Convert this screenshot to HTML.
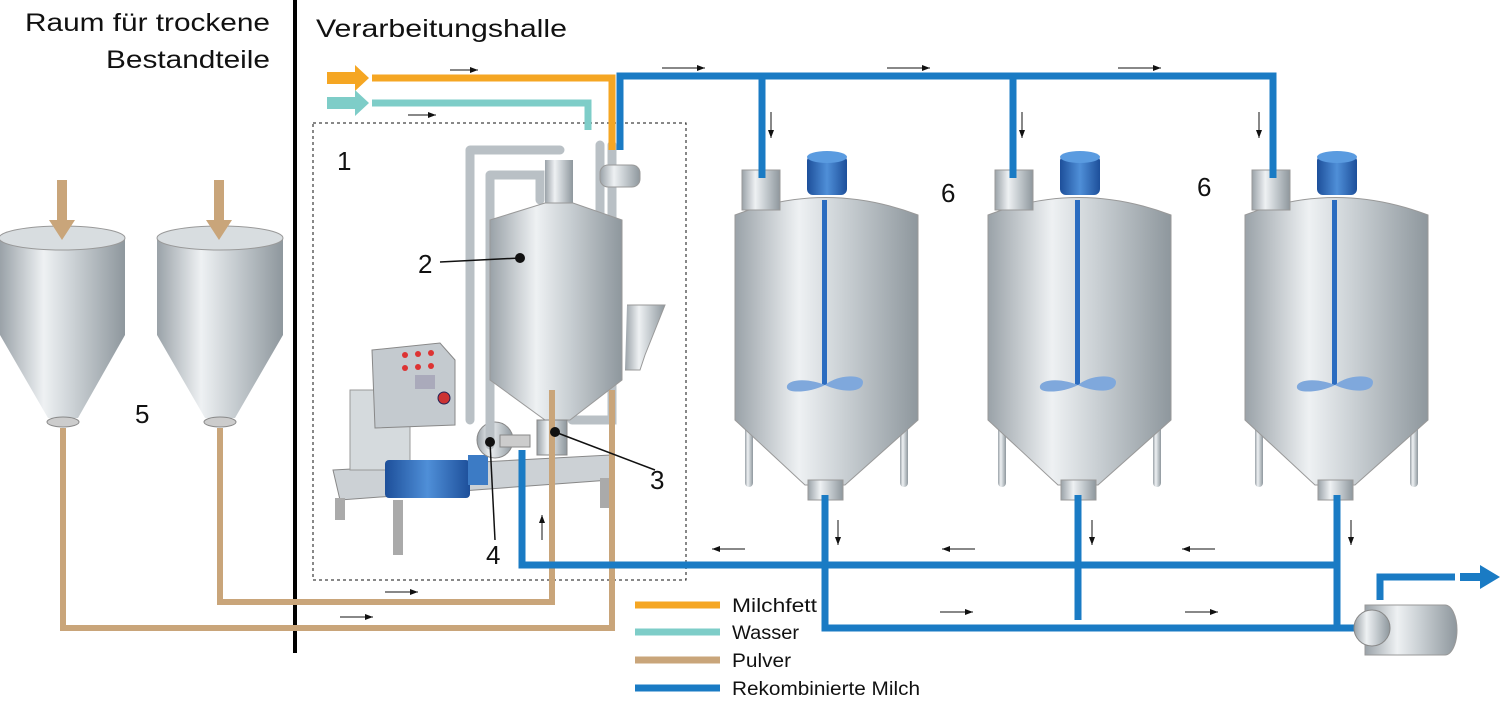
<!DOCTYPE html>
<html><head><meta charset="utf-8"><style>
body{margin:0;background:#fff}
svg{display:block}
text{font-family:"Liberation Sans",sans-serif;fill:#111}
</style></head><body>
<svg width="1502" height="704" viewBox="0 0 1502 704" xmlns="http://www.w3.org/2000/svg">
<defs>
<linearGradient id="m" x1="0" x2="1"><stop offset="0" stop-color="#9aa2a8"/><stop offset=".35" stop-color="#eef1f3"/><stop offset=".6" stop-color="#c9cfd3"/><stop offset="1" stop-color="#8e979d"/></linearGradient>
<linearGradient id="b" x1="0" x2="1"><stop offset="0" stop-color="#1d4f9a"/><stop offset=".5" stop-color="#4f8fd8"/><stop offset="1" stop-color="#1d4f9a"/></linearGradient>
<marker id="ar" markerWidth="8" markerHeight="6" refX="8" refY="3" orient="auto"><path d="M0,0L8,3L0,6z" fill="#111"/></marker>
</defs>
<text x="25" y="31" font-size="25" textLength="245" lengthAdjust="spacingAndGlyphs">Raum für trockene</text>
<text x="106" y="68" font-size="25" textLength="164" lengthAdjust="spacingAndGlyphs">Bestandteile</text>
<rect x="293" y="0" width="4" height="653" fill="#000"/>
<text x="316" y="37" font-size="25" textLength="251" lengthAdjust="spacingAndGlyphs">Verarbeitungshalle</text>
<rect x="313" y="123" width="373" height="457" fill="none" stroke="#111" stroke-dasharray="3,3"/>

<!-- silos -->
<g>
<path d="M0,238 L125,238 L125,335 L78,418 L48,418 L0,335Z" fill="url(#m)"/>
<ellipse cx="62" cy="238" rx="63" ry="12" fill="#d8dde0" stroke="#999"/>
<ellipse cx="63" cy="422" rx="16" ry="5" fill="#ccc" stroke="#888"/>
<path d="M157,238 L283,238 L283,335 L235,418 L205,418 L157,335Z" fill="url(#m)"/>
<ellipse cx="220" cy="238" rx="63" ry="12" fill="#d8dde0" stroke="#999"/>
<ellipse cx="220" cy="422" rx="16" ry="5" fill="#ccc" stroke="#888"/>
<path d="M57,180 v40 h-8 l13,20 l13,-20 h-8 v-40z" fill="#c9a57a"/>
<path d="M214,180 v40 h-8 l13,20 l13,-20 h-8 v-40z" fill="#c9a57a"/>
</g>

<!-- mixer unit -->
<g>
<path d="M333,470 L610,455 L610,480 L340,500Z" fill="#ccd1d5" stroke="#888"/>
<rect x="335" y="498" width="10" height="22" fill="#aaa"/><rect x="393" y="500" width="10" height="55" fill="#aaa"/><rect x="600" y="478" width="10" height="30" fill="#aaa"/>
<rect x="350" y="390" width="60" height="80" fill="#d5dadd" stroke="#999"/>
<path d="M372,350 L440,343 L455,360 L455,425 L375,428Z" fill="#c4cacf" stroke="#888"/>
<g fill="#d33"><circle cx="405" cy="355" r="3"/><circle cx="418" cy="354" r="3"/><circle cx="431" cy="353" r="3"/><circle cx="405" cy="368" r="3"/><circle cx="418" cy="367" r="3"/><circle cx="431" cy="366" r="3"/></g>
<rect x="415" y="375" width="20" height="14" fill="#aab"/>
<circle cx="444" cy="398" r="6" fill="#c33" stroke="#225"/>
<rect x="385" y="460" width="85" height="38" rx="4" fill="url(#b)"/>
<rect x="468" y="455" width="20" height="30" fill="#3c7bc5"/>
<circle cx="495" cy="440" r="18" fill="url(#m)" stroke="#888"/>
<rect x="500" y="435" width="30" height="12" fill="#ccc" stroke="#888"/>
<path d="M470,150 h90 M470,150 v270 M490,175 v270 M490,175 h50 v25 M600,145 v240 M612,145 v260 M612,400 v20 h-40" fill="none" stroke="#b9c0c5" stroke-width="9" stroke-linecap="round"/>
<rect x="545" y="160" width="28" height="45" fill="url(#m)"/>
<path d="M490,220 L545,203 L573,203 L622,220 L622,380 L570,420 L545,420 L490,380Z" fill="url(#m)" stroke="#999"/>
<rect x="537" y="420" width="30" height="35" fill="url(#m)" stroke="#888"/>
<path d="M627,305 L665,305 L645,355 L640,370 L625,370" fill="url(#m)" stroke="#999"/>
<rect x="600" y="165" width="40" height="22" rx="8" fill="url(#m)" stroke="#999"/>
</g>

<!-- big tanks -->
<g id="t">
<rect x="745" y="425" width="8" height="62" rx="4" fill="url(#m)"/><rect x="900" y="425" width="8" height="62" rx="4" fill="url(#m)"/>
<path d="M735,215 Q825,180 918,215 L918,420 L845,485 L805,485 L735,420Z" fill="url(#m)" stroke="#999"/>
<rect x="808" y="480" width="35" height="20" fill="url(#m)" stroke="#999"/>
<rect x="822" y="200" width="5" height="185" fill="#2b6cc0"/>
<path d="M825,385 c-20,-8 -40,-5 -38,3 c2,6 25,4 38,-3 c15,7 38,9 38,-3 c0,-8 -25,-8 -38,3z" fill="#7fa8dc"/>
<rect x="807" y="155" width="40" height="40" rx="6" fill="url(#b)"/>
<ellipse cx="827" cy="157" rx="20" ry="6" fill="#5a9be0"/>
<rect x="742" y="170" width="38" height="40" fill="url(#m)" stroke="#999"/>
</g>
<use href="#t" x="253"/>
<use href="#t" x="510"/>

<!-- pipes -->
<g fill="none" stroke-linejoin="miter">
<path d="M63,428 V628 H612 V390" stroke="#c9a57a" stroke-width="6"/>
<path d="M220,428 V602 H552 V390" stroke="#c9a57a" stroke-width="6"/>
<path d="M372,78 H612 V150" stroke="#f5a623" stroke-width="7"/>
<path d="M372,103 H588 V130" stroke="#7ecdc8" stroke-width="7"/>
<g stroke="#1a7bc4" stroke-width="7">
<path d="M620,150 V76 H1273 V178"/>
<path d="M762,76 V178 M1013,76 V178"/>
<path d="M522,450 V565 H1337"/>
<path d="M825,495 V628 H1365"/>
<path d="M1078,495 V620 M1337,495 V628"/>
<path d="M1380,600 V577 H1455"/>
</g>
</g>
<path d="M327,72 h28 v-7 l14,13 l-14,13 v-7 h-28z" fill="#f5a623"/>
<path d="M327,97 h28 v-7 l14,13 l-14,13 v-7 h-28z" fill="#7ecdc8"/>
<path d="M1460,573 h20 v-8 l20,12 l-20,12 v-8 h-20z" fill="#1a7bc4"/>
<!-- pump -->
<path d="M1365,605 h80 a12,25 0 0 1 0,50 h-80z" fill="url(#m)" stroke="#999"/>
<circle cx="1372" cy="628" r="18" fill="url(#m)" stroke="#888"/>

<!-- small arrows -->
<g stroke="#111" stroke-width="1" marker-end="url(#ar)">
<line x1="450" y1="70" x2="478" y2="70"/><line x1="408" y1="115" x2="436" y2="115"/>
<line x1="662" y1="68" x2="705" y2="68"/><line x1="887" y1="68" x2="930" y2="68"/><line x1="1118" y1="68" x2="1161" y2="68"/>
<line x1="771" y1="112" x2="771" y2="138"/><line x1="1022" y1="112" x2="1022" y2="138"/><line x1="1259" y1="112" x2="1259" y2="138"/>
<line x1="838" y1="520" x2="838" y2="545"/><line x1="1092" y1="520" x2="1092" y2="545"/><line x1="1351" y1="520" x2="1351" y2="545"/>
<line x1="745" y1="549" x2="712" y2="549"/><line x1="975" y1="549" x2="942" y2="549"/><line x1="1215" y1="549" x2="1182" y2="549"/>
<line x1="542" y1="540" x2="542" y2="515"/>
<line x1="385" y1="592" x2="418" y2="592"/><line x1="340" y1="617" x2="373" y2="617"/>
<line x1="940" y1="612" x2="973" y2="612"/><line x1="1185" y1="612" x2="1218" y2="612"/>
</g>

<!-- callouts -->
<g stroke="#111" stroke-width="1.5">
<line x1="440" y1="262" x2="520" y2="258"/><line x1="655" y1="470" x2="555" y2="432"/><line x1="495" y1="540" x2="490" y2="442"/>
</g>
<g fill="#111"><circle cx="520" cy="258" r="5"/><circle cx="555" cy="432" r="5"/><circle cx="490" cy="442" r="5"/></g>
<g font-size="26">
<text x="337" y="170">1</text><text x="418" y="273">2</text><text x="650" y="489">3</text><text x="486" y="564">4</text>
<text x="135" y="423">5</text><text x="941" y="202">6</text><text x="1197" y="196">6</text>
</g>

<!-- legend -->
<g stroke-width="7">
<line x1="635" y1="605" x2="720" y2="605" stroke="#f5a623"/>
<line x1="635" y1="632" x2="720" y2="632" stroke="#7ecdc8"/>
<line x1="635" y1="660" x2="720" y2="660" stroke="#c9a57a"/>
<line x1="635" y1="688" x2="720" y2="688" stroke="#1a7bc4"/>
</g>
<g font-size="19">
<text x="732" y="612" textLength="85" lengthAdjust="spacingAndGlyphs">Milchfett</text>
<text x="732" y="639" textLength="67" lengthAdjust="spacingAndGlyphs">Wasser</text>
<text x="732" y="667" textLength="59" lengthAdjust="spacingAndGlyphs">Pulver</text>
<text x="732" y="695" textLength="188" lengthAdjust="spacingAndGlyphs">Rekombinierte Milch</text>
</g>
</svg>
</body></html>
